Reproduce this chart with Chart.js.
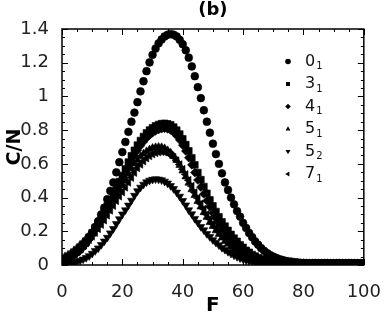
<!DOCTYPE html>
<html>
<head>
<meta charset="utf-8">
<script src="https://cdn.jsdelivr.net/npm/chart.js@4/dist/chart.umd.min.js"></script>
<style>
  html, body { margin: 0; padding: 0; background: #fff; }
</style>
</head>
<body>
<canvas id="knotChart" width="390" height="324"></canvas>
<script>
const F = [0,1,2,3,4,5,6,7,8,9,10,11,12,13,14,15,16,17,18,19,20,21,22,23,24,25,26,27,28,29,
  30,31,32,33,34,35,36,37,38,39,40,41,42,43,44,45,46,47,48,49,50,51,52,53,54,55,56,57,58,59,
  60,61,62,63,64,65,66,67,68,69,70,71,72,73,74,75,76,77,78,79,80,81,82,83,84,85,86,87,88,89,
  90,91,92,93,94,95,96,97,98,99,100];

// 0_1
const c01 = [0.030,0.036,0.041,0.051,0.060,0.075,0.090,0.110,0.130,0.160,
  0.190,0.226,0.260,0.300,0.340,0.390,0.440,0.490,0.550,0.610,
  0.670,0.730,0.790,0.850,0.904,0.966,1.030,1.090,1.150,1.202,
  1.247,1.284,1.315,1.338,1.356,1.366,1.370,1.366,1.356,1.336,
  1.310,1.274,1.230,1.178,1.120,1.055,0.990,0.918,0.850,0.785,
  0.720,0.658,0.600,0.544,0.490,0.445,0.400,0.360,0.320,0.287,
  0.250,0.220,0.190,0.165,0.140,0.120,0.100,0.084,0.070,0.059,
  0.050,0.042,0.035,0.030,0.025,0.022,0.020,0.017,0.015,0.013,
  0.012,0.010,0.010,0.010,0.010,0.010,0.010,0.010,0.010,0.010,
  0.010,0.010,0.010,0.010,0.010,0.010,0.010,0.010,0.010,0.010,0.010];

// 3_1
const c31 = [0.030,0.037,0.045,0.055,0.067,0.080,0.097,0.117,0.140,0.165,
  0.190,0.220,0.250,0.280,0.315,0.350,0.385,0.420,0.460,0.495,
  0.530,0.570,0.610,0.647,0.680,0.711,0.738,0.762,0.783,0.800,
  0.814,0.825,0.833,0.838,0.840,0.837,0.831,0.818,0.800,0.777,
  0.748,0.714,0.677,0.636,0.594,0.548,0.506,0.465,0.425,0.386,
  0.350,0.317,0.285,0.256,0.230,0.205,0.181,0.159,0.140,0.120,
  0.104,0.087,0.075,0.062,0.053,0.043,0.036,0.031,0.026,0.022,
  0.019,0.017,0.015,0.013,0.012,0.011,0.010,0.010,0.010,0.010,
  0.010,0.010,0.010,0.010,0.010,0.010,0.010,0.010,0.010,0.010,
  0.010,0.010,0.010,0.010,0.010,0.010,0.010,0.010,0.010,0.010,0.010];

// 4_1
const c41 = [0.028,0.035,0.043,0.052,0.063,0.076,0.092,0.110,0.130,0.155,
  0.180,0.210,0.235,0.265,0.300,0.330,0.365,0.400,0.435,0.470,
  0.505,0.540,0.580,0.615,0.650,0.680,0.707,0.731,0.752,0.770,
  0.784,0.795,0.803,0.808,0.810,0.807,0.800,0.786,0.767,0.742,
  0.711,0.676,0.636,0.594,0.548,0.504,0.462,0.421,0.381,0.345,
  0.309,0.277,0.247,0.220,0.196,0.172,0.149,0.130,0.111,0.094,
  0.079,0.067,0.056,0.046,0.037,0.031,0.026,0.022,0.019,0.016,
  0.014,0.013,0.012,0.011,0.010,0.010,0.010,0.010,0.010,0.010,
  0.010,0.010,0.010,0.010,0.010,0.010,0.010,0.010,0.010,0.010,
  0.010,0.010,0.010,0.010,0.010,0.010,0.010,0.010,0.010,0.010,0.010];

// 5_1
const c51 = [0.042,0.051,0.061,0.073,0.087,0.103,0.120,0.137,0.157,0.177,
  0.200,0.224,0.250,0.277,0.307,0.337,0.367,0.397,0.425,0.451,
  0.480,0.510,0.541,0.571,0.600,0.622,0.643,0.660,0.674,0.685,
  0.694,0.698,0.700,0.698,0.692,0.680,0.666,0.645,0.621,0.592,
  0.559,0.524,0.487,0.448,0.414,0.378,0.346,0.312,0.284,0.253,
  0.230,0.204,0.183,0.162,0.141,0.125,0.108,0.093,0.079,0.067,
  0.056,0.047,0.039,0.033,0.028,0.024,0.020,0.017,0.015,0.013,
  0.012,0.011,0.010,0.010,0.010,0.010,0.010,0.010,0.010,0.010,
  0.010,0.010,0.010,0.010,0.010,0.010,0.010,0.010,0.010,0.010,
  0.010,0.010,0.010,0.010,0.010,0.010,0.010,0.010,0.010,0.010,0.010];

// 5_2
const c52 = [0.010,0.010,0.011,0.013,0.016,0.021,0.027,0.034,0.043,0.054,
  0.068,0.084,0.100,0.120,0.141,0.163,0.189,0.215,0.244,0.273,
  0.301,0.326,0.354,0.383,0.412,0.439,0.460,0.478,0.492,0.502,
  0.507,0.510,0.508,0.504,0.496,0.485,0.470,0.452,0.431,0.407,
  0.381,0.355,0.326,0.302,0.275,0.252,0.227,0.207,0.185,0.167,
  0.149,0.134,0.118,0.103,0.091,0.079,0.068,0.058,0.049,0.041,
  0.035,0.028,0.024,0.020,0.017,0.015,0.013,0.012,0.011,0.010,
  0.010,0.010,0.010,0.010,0.010,0.010,0.010,0.010,0.010,0.010,
  0.010,0.010,0.010,0.010,0.010,0.010,0.010,0.010,0.010,0.010,
  0.010,0.010,0.010,0.010,0.010,0.010,0.010,0.010,0.010,0.010,0.010];

// 7_1
const c71 = [0.034,0.040,0.049,0.059,0.070,0.084,0.099,0.115,0.132,0.151,
  0.170,0.192,0.215,0.240,0.266,0.295,0.324,0.352,0.381,0.408,
  0.433,0.461,0.490,0.519,0.548,0.576,0.597,0.617,0.634,0.647,
  0.658,0.666,0.670,0.672,0.670,0.664,0.653,0.639,0.619,0.596,
  0.568,0.537,0.503,0.468,0.430,0.397,0.363,0.332,0.300,0.273,
  0.243,0.221,0.196,0.176,0.156,0.135,0.120,0.104,0.089,0.076,
  0.064,0.054,0.045,0.037,0.032,0.027,0.023,0.019,0.017,0.015,
  0.013,0.012,0.011,0.010,0.010,0.010,0.010,0.010,0.010,0.010,
  0.010,0.010,0.010,0.010,0.010,0.010,0.010,0.010,0.010,0.010,
  0.010,0.010,0.010,0.010,0.010,0.010,0.010,0.010,0.010,0.010,0.010];

const xTicks = [0, 20, 40, 60, 80, 100];
const yTicks = [0, 0.2, 0.4, 0.6, 0.8, 1, 1.2, 1.4];
const yTickLabels = ['0', '0.2', '0.4', '0.6', '0.8', '1', '1.2', '1.4'];
const legendMain = ['0', '3', '4', '5', '5', '7'];
const legendSub = ['1', '1', '1', '1', '2', '1'];

const FONT = "'DejaVu Sans', sans-serif";

function pts(vals) {
  return F.map((f, i) => ({ x: f, y: vals[i] }));
}

function series(label, vals, style, radius, rot) {
  return {
    label: label,
    data: pts(vals),
    pointStyle: style,
    pointRadius: radius,
    pointRotation: rot,
    pointBackgroundColor: '#000',
    pointBorderColor: '#000',
    pointBorderWidth: 0.6,
    showLine: false,
  };
}

// inward ticks on all four sides + black frame
const frameTicks = {
  id: 'frameTicks',
  afterDraw(chart) {
    const { ctx, chartArea: a, scales: { x, y } } = chart;
    ctx.save();
    ctx.strokeStyle = '#000';
    ctx.lineWidth = 1;
    ctx.beginPath();
    for (let v = 0; v <= 100; v += 5) {
      const px = Math.round(x.getPixelForValue(v)) + 0.5;
      const len = v % 20 === 0 ? 6 : 3;
      ctx.moveTo(px, a.bottom); ctx.lineTo(px, a.bottom - len);
      ctx.moveTo(px, a.top); ctx.lineTo(px, a.top + len);
    }
    for (let k = 0; k <= 28; k++) {
      const py = Math.round(y.getPixelForValue(k * 0.05)) + 0.5;
      const len = k % 4 === 0 ? 6 : 3;
      ctx.moveTo(a.left, py); ctx.lineTo(a.left + len, py);
      ctx.moveTo(a.right, py); ctx.lineTo(a.right - len, py);
    }
    ctx.stroke();
    ctx.lineWidth = 1.5;
    ctx.strokeRect(a.left, a.top, a.right - a.left, a.bottom - a.top);
    ctx.restore();
  }
};

// legend with subscripts, inside the plot on the right
const knotLegend = {
  id: 'knotLegend',
  afterDraw(chart) {
    const ctx = chart.ctx;
    const helpers = Chart.helpers;
    ctx.save();
    chart.data.datasets.forEach((ds, i) => {
      const yy = 61.5 + i * 22.5;
      const opts = { pointStyle: ds.pointStyle, radius: 2.8, rotation: ds.pointRotation, borderWidth: 0 };
      ctx.fillStyle = '#000';
      ctx.strokeStyle = '#000';
      if (helpers && helpers.drawPoint) {
        helpers.drawPoint(ctx, opts, 288, yy);
      } else {
        ctx.beginPath(); ctx.arc(288, yy, 2.8, 0, Math.PI * 2); ctx.fill();
      }
      ctx.fillStyle = '#111';
      ctx.textBaseline = 'middle';
      ctx.textAlign = 'left';
      ctx.font = '16px ' + FONT;
      ctx.fillText(legendMain[i], 305, yy);
      const w = ctx.measureText(legendMain[i]).width;
      ctx.font = '10px ' + FONT;
      ctx.fillText(legendSub[i], 305 + w + 1, yy + 5);
    });
    ctx.restore();
  }
};

const ctx = document.getElementById('knotChart').getContext('2d');
new Chart(ctx, {
  type: 'scatter',
  data: {
    datasets: [
      series('0₁', c01, 'circle', 3.9, 0),
      series('3₁', c31, 'rect', 4.8, 0),
      series('4₁', c41, 'rectRot', 4.3, 0),
      series('5₁', c51, 'triangle', 4.5, 0),
      series('5₂', c52, 'triangle', 4.5, 180),
      series('7₁', c71, 'triangle', 4.5, 270),
    ]
  },
  options: {
    responsive: false,
    animation: false,
    devicePixelRatio: 1,
    events: [],
    layout: { padding: { left: 0, right: 24, top: 0, bottom: 0 } },
    scales: {
      x: {
        type: 'linear',
        min: 0,
        max: 100,
        afterBuildTicks: s => { s.ticks = xTicks.map(v => ({ value: v })); },
        afterFit: s => { s.height = 59; },
        grid: { display: false },
        border: { display: false },
        ticks: {
          autoSkip: false,
          maxRotation: 0,
          padding: 9,
          color: '#222',
          font: { family: FONT, size: 18 },
        },
        title: {
          display: true,
          text: 'F',
          color: '#000',
          font: { family: FONT, size: 20, weight: 'bold' },
          padding: { top: 0, bottom: 6 },
        },
      },
      y: {
        min: 0,
        max: 1.4,
        afterBuildTicks: s => { s.ticks = yTicks.map(v => ({ value: v })); },
        afterFit: s => { s.width = 62; },
        grid: { display: false },
        border: { display: false },
        ticks: {
          autoSkip: false,
          padding: 5,
          color: '#222',
          font: { family: FONT, size: 18 },
          callback: (v, i) => yTickLabels[i],
        },
        title: {
          display: true,
          text: 'C/N',
          color: '#000',
          font: { family: FONT, size: 19, weight: 'bold' },
          padding: { top: 4, bottom: 0 },
        },
      },
    },
    plugins: {
      legend: { display: false },
      tooltip: { enabled: false },
      title: {
        display: true,
        text: '(b)',
        fullSize: false,
        color: '#000',
        font: { family: FONT, size: 18, weight: 'bold', lineHeight: 1 },
        padding: { top: 1, bottom: 10 },
      },
    },
  },
  plugins: [frameTicks, knotLegend],
});
</script>
</body>
</html>
